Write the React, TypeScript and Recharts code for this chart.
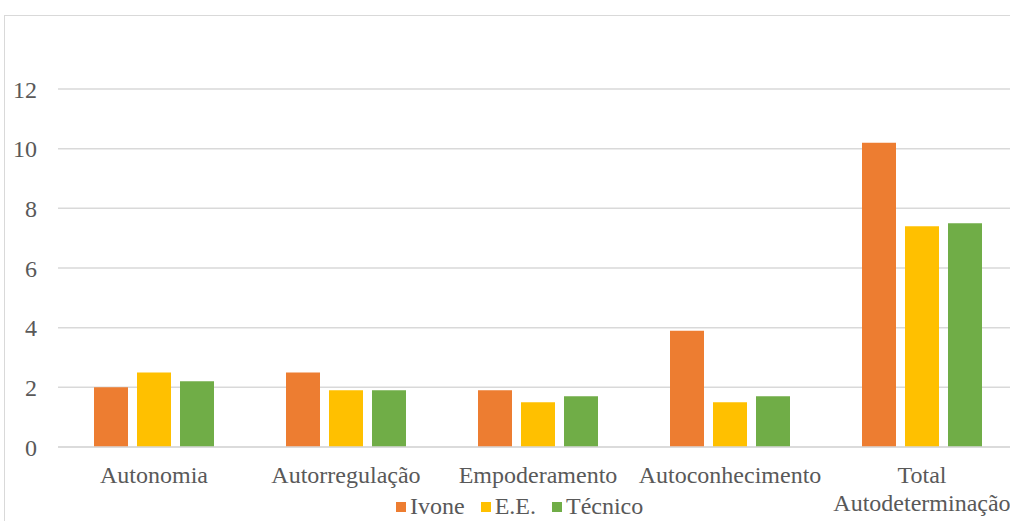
import { Bar, BarChart, CartesianGrid, XAxis, YAxis } from "recharts";

const CATEGORIES = [
  "Autonomia",
  "Autorregulação",
  "Empoderamento",
  "Autoconhecimento",
  "Total Autodeterminação",
];
const IVONE = [2.0, 2.5, 1.9, 3.9, 10.2];
const EE = [2.5, 1.9, 1.5, 1.5, 7.4];
const TECNICO = [2.2, 1.9, 1.7, 1.7, 7.5];
const Y_TICKS = [0, 2, 4, 6, 8, 10, 12];

const SERIES = [
  { key: "ivone", name: "Ivone", color: "#ED7D31" },
  { key: "ee", name: "E.E.", color: "#FFC000" },
  { key: "tecnico", name: "Técnico", color: "#70AD47" },
];

const data = CATEGORIES.map((category, i) => ({
  category,
  ivone: IVONE[i],
  ee: EE[i],
  tecnico: TECNICO[i],
}));

const FONT = "'Liberation Serif', 'Times New Roman', serif";
const TEXT = "#595959";
const GRID = "#D9D9D9";
const FONT_SIZE = 24;

// long category names break onto a second line
function CategoryTick({ x, y, payload }: any) {
  const label: string = payload.value;
  const lines = label.length > 18 ? label.split(" ") : [label];
  return (
    <text x={x} y={y} textAnchor="middle" fill={TEXT} style={{ fontFamily: FONT, fontSize: FONT_SIZE }}>
      {lines.map((line, i) => (
        <tspan key={i} x={x} dy={28}>
          {line}
        </tspan>
      ))}
    </text>
  );
}

export default function App() {
  return (
    <div
      style={{
        position: "absolute",
        left: 0,
        top: 0,
        width: 1010,
        height: 521,
        overflow: "hidden",
        background: "#fff",
        fontFamily: FONT,
      }}
    >
      <div
        style={{
          position: "absolute",
          left: 4,
          top: 15,
          width: 1100,
          height: 600,
          border: `1px solid ${GRID}`,
        }}
      />
      <BarChart
        width={1040}
        height={521}
        data={data}
        margin={{ top: 89, right: 22, bottom: 0, left: 0 }}
        barSize={34}
        barGap={9}
      >
        <CartesianGrid vertical={false} stroke={GRID} strokeWidth={1.5} />
        <XAxis
          dataKey="category"
          axisLine={{ stroke: GRID, strokeWidth: 1.5 }}
          tickLine={false}
          tick={<CategoryTick />}
          interval={0}
          height={74}
        />
        <YAxis
          domain={[0, 12]}
          ticks={Y_TICKS}
          width={58}
          axisLine={false}
          tickLine={false}
          tickMargin={15}
          tick={{ fill: TEXT, fontFamily: FONT, fontSize: FONT_SIZE }}
        />
        {SERIES.map((s) => (
          <Bar key={s.key} dataKey={s.key} name={s.name} fill={s.color} isAnimationActive={false} />
        ))}
      </BarChart>
      <div
        style={{
          position: "absolute",
          left: 396,
          top: 493,
          display: "flex",
          alignItems: "center",
          fontSize: FONT_SIZE,
          color: TEXT,
        }}
      >
        {SERIES.map((s) => (
          <div key={s.key} style={{ display: "flex", alignItems: "center", marginRight: 16 }}>
            <span style={{ width: 10, height: 10, background: s.color, display: "inline-block", marginRight: 4 }} />
            <span>{s.name}</span>
          </div>
        ))}
      </div>
    </div>
  );
}
